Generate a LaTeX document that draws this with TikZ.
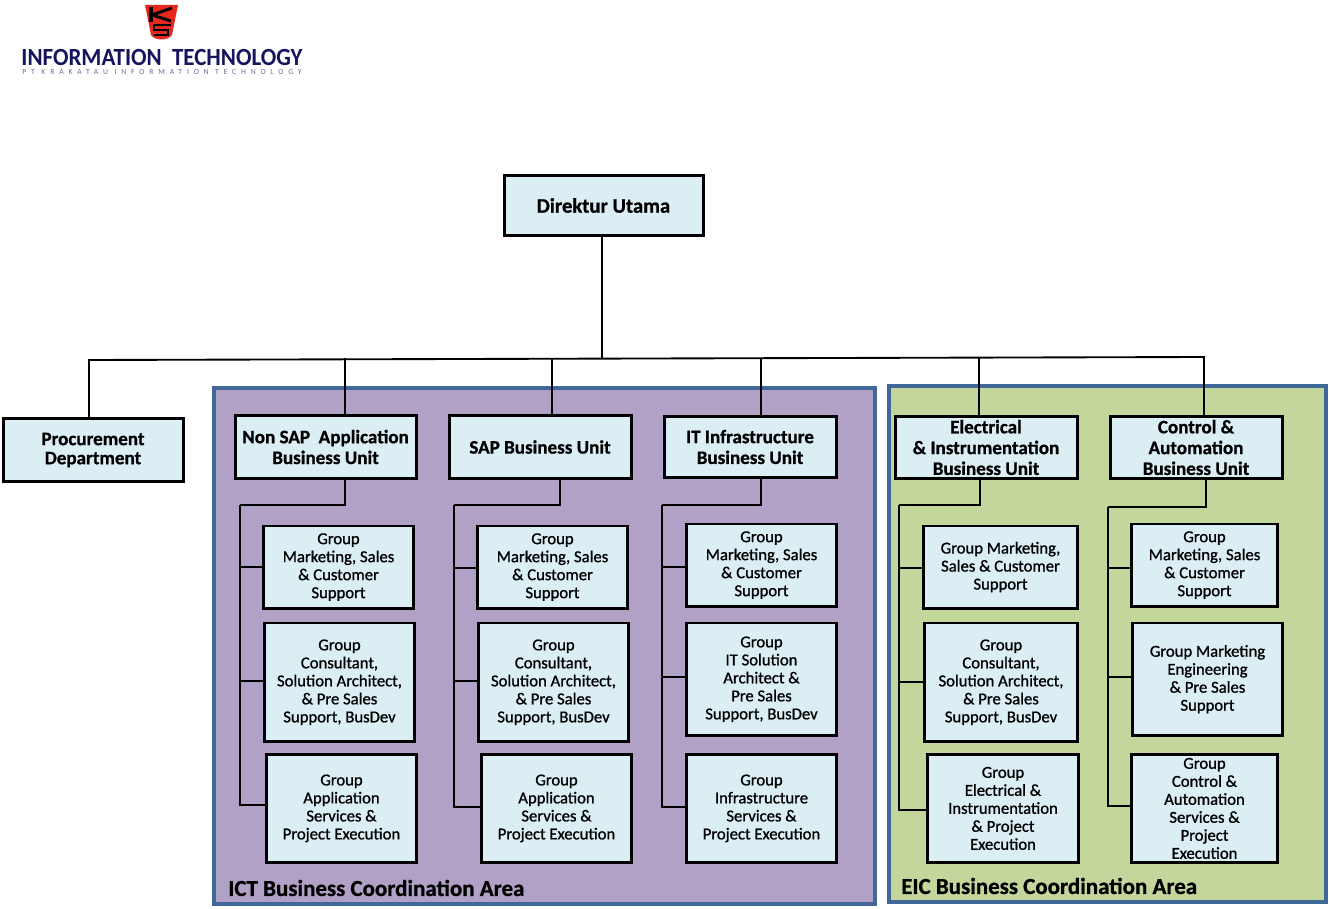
\documentclass[tikz,border=0pt]{standalone}
\usepackage{fontspec}
\setmainfont{Carlito}
\newfontfamily\groupfont[FakeBold=1]{Carlito}
\newfontfamily\unitfont[FakeBold=0.8]{Carlito Bold}
\newfontfamily\logofont[LetterSpace=62]{Carlito}
\usetikzlibrary{positioning}
\newcommand{\px}{0.75pt}
\definecolor{boxfill}{HTML}{DBEEF4}
\definecolor{arealine}{HTML}{3F6797}
\definecolor{ictfill}{HTML}{B2A1C7}
\definecolor{eicfill}{HTML}{C3D69B}
\definecolor{logonavy}{HTML}{14145F}
\definecolor{logogrey}{HTML}{6A6A9A}
\definecolor{logored}{HTML}{E8281E}
\tikzset{
  basebox/.style={draw=black, fill=boxfill, rectangle, align=center, inner sep=0pt, line width=2.25pt},
  unitbox/.style={basebox, font=\unitfont\fontsize{14.3}{15.6}\selectfont},
  groupbox/.style={basebox, line width=2pt, minimum width=149.5*\px, font=\groupfont\fontsize{12.5}{13.5}\selectfont},
  areabox/.style={draw=arealine, rectangle, inner sep=0pt, line width=3pt},
  arealabel/.style={anchor=west, inner sep=0pt, font=\unitfont\fontsize{17.2}{19}\selectfont},
  conn/.style={draw=black, line width=1.4pt}
}
\begin{document}
\begin{tikzpicture}[x=0.75pt, y=-0.75pt]
\useasboundingbox (0,0) rectangle (1329,909);

\fill[logored] (145,5) -- (178,5) -- (172,35) .. controls (168,41) and (155,41) .. (151,35) -- cycle;
\draw[black, line width=3.2pt] (151,7) -- (151,22);
\draw[black, line width=2.2pt] (152,15) -- (172,8) (152,15) -- (171,21);
\draw[black, line width=2.2pt] (171,25) -- (154,25) -- (154,30) -- (168,30) -- (168,35) -- (154,35);
\node[inner sep=0pt, text=logonavy, font=\bfseries\fontsize{18.5}{20}\selectfont, xscale=0.93] (logotitle) at (162,58) {INFORMATION\ \ TECHNOLOGY};
\node[inner sep=0pt, text=logogrey, font=\logofont\fontsize{5.8}{6}\selectfont] (logosub) at (162,72) {PT KRAKATAU INFORMATION TECHNOLOGY};

\node[areabox, fill=ictfill, minimum width=660.5*\px, minimum height=515.5*\px] (ict) at (544.5,646) {};
\node[areabox, fill=eicfill, minimum width=436.5*\px, minimum height=515.5*\px] (eic) at (1107.5,644) {};
\node[arealabel] (ictlabel) at (228,888) {ICT Business Coordination Area};
\node[arealabel] (eiclabel) at (901,886) {EIC Business Coordination Area};

\node[unitbox, minimum width=199*\px, minimum height=60*\px, font=\unitfont\fontsize{15.5}{17}\selectfont] (dir) at (603.5,205.5) {Direktur Utama};
\node[unitbox, minimum width=180*\px, minimum height=62*\px, font=\unitfont\fontsize{14.3}{14.3}\selectfont] (proc) at (93,450) {Procurement\\Department};

\node[unitbox, minimum width=181*\px, minimum height=62*\px] (nsap) at (325.5,447) {Non SAP\ \ Application\\Business Unit};
\node[unitbox, minimum width=182*\px, minimum height=62*\px] (sap) at (540,447) {SAP Business Unit};
\node[unitbox, minimum width=172*\px, minimum height=60*\px] (it) at (750,447) {IT Infrastructure\\Business Unit};
\node[unitbox, minimum width=182*\px, minimum height=61*\px] (el) at (986,447.5) {Electrical\\\& Instrumentation\\Business Unit};
\node[unitbox, minimum width=172*\px, minimum height=61*\px] (ctrl) at (1196,447.5) {Control \&\\Automation\\Business Unit};

\node[groupbox, below=45*\px of nsap, xshift=13*\px, minimum height=82.5*\px] (g11) {Group\\Marketing, Sales\\\& Customer\\Support};
\node[groupbox, below=12*\px of g11, xshift=1*\px, minimum height=118.5*\px] (g12) {Group\\Consultant,\\Solution Architect,\\\& Pre Sales\\Support, BusDev};
\node[groupbox, below=10*\px of g12, xshift=2*\px, minimum height=108.5*\px] (g13) {Group\\Application\\Services \&\\Project Execution};

\node[groupbox, below=45*\px of sap, xshift=12.5*\px, minimum height=82.5*\px] (g21) {Group\\Marketing, Sales\\\& Customer\\Support};
\node[groupbox, below=12*\px of g21, xshift=1*\px, minimum height=118.5*\px] (g22) {Group\\Consultant,\\Solution Architect,\\\& Pre Sales\\Support, BusDev};
\node[groupbox, below=10*\px of g22, xshift=3*\px, minimum height=108.5*\px] (g23) {Group\\Application\\Services \&\\Project Execution};

\node[groupbox, below=44*\px of it, xshift=11.5*\px, minimum height=82.5*\px] (g31) {Group\\Marketing, Sales\\\& Customer\\Support};
\node[groupbox, below=14*\px of g31, minimum height=112.5*\px] (g32) {Group\\IT Solution\\Architect \&\\Pre Sales\\Support, BusDev};
\node[groupbox, below=16*\px of g32, minimum height=108.5*\px] (g33) {Group\\Infrastructure\\Services \&\\Project Execution};

\node[groupbox, below=45*\px of el, xshift=14.5*\px, minimum width=153.5*\px, minimum height=82.5*\px] (g41) {Group Marketing,\\Sales \& Customer\\Support};
\node[groupbox, below=12*\px of g41, xshift=0.5*\px, minimum width=152.5*\px, minimum height=118.5*\px] (g42) {Group\\Consultant,\\Solution Architect,\\\& Pre Sales\\Support, BusDev};
\node[groupbox, below=10*\px of g42, xshift=2*\px, minimum width=150.5*\px, minimum height=108.5*\px] (g43) {Group\\Electrical \&\\Instrumentation\\\& Project\\Execution};

\node[groupbox, below=43*\px of ctrl, xshift=8.5*\px, minimum width=145.5*\px, minimum height=82.5*\px] (g51) {Group\\Marketing, Sales\\\& Customer\\Support};
\node[groupbox, below=14*\px of g51, xshift=3*\px, minimum height=112.5*\px] (g52) {Group Marketing\\Engineering\\\& Pre Sales\\Support};
\node[groupbox, below=16*\px of g52, xshift=-3*\px, minimum width=145.5*\px, minimum height=108.5*\px] (g53) {Group\\Control \&\\Automation\\Services \&\\Project\\Execution};

\coordinate (busl) at (89,360);
\coordinate (busr) at (1204,357);
\coordinate (busm) at (602,358.5);
\draw[conn] (busm |- dir.south) -- (busm);
\draw[conn] (busl |- proc.north) -- (busl) -- (busr) -- (busr |- ctrl.north);

\foreach \unit/\topx/\lowx/\spinex/\spiney in {nsap/345/345/240/505, sap/552/560/454/505, it/761/761/662/505, el/979/980/899/505, ctrl/1204/1206/1108/507} {
  \coordinate (\unit bus) at (\topx,358);
  \coordinate (\unit spine) at (\spinex,\spiney);
  \draw[conn] (\unit bus) -- (\unit bus |- \unit.north);
  \draw[conn] (\lowx,0 |- \unit.south) -- (\lowx,\spiney) -- (\unit spine);
}
\foreach \unit/\g/\dy in {nsap/g11/0, nsap/g12/-1, nsap/g13/-3, sap/g21/1, sap/g22/-1, sap/g23/-1, it/g31/2, it/g32/-2, it/g33/-1, el/g41/1, el/g42/0, el/g43/2, ctrl/g51/3, ctrl/g52/-2, ctrl/g53/-2} {
  \draw[conn] (\unit spine) |- ([yshift=-\dy*\px]\g.west);
}
\end{tikzpicture}
\end{document}
